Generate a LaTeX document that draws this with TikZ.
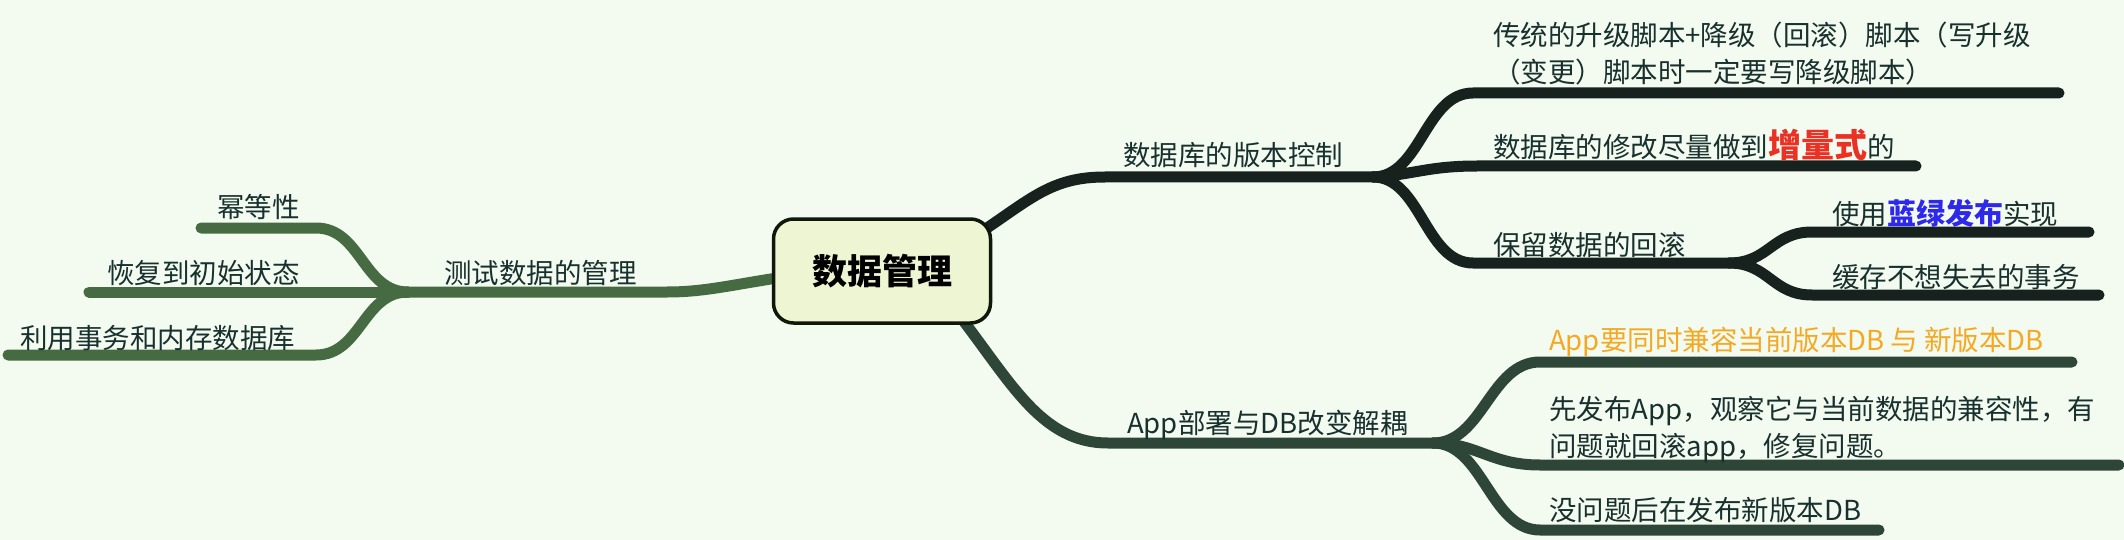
\documentclass[tikz,border=0pt]{standalone}
\usepackage{fontspec}
\setmainfont{Noto Sans CJK SC}
\definecolor{bgc}{RGB}{243,251,240}
\definecolor{rootfill}{RGB}{238,245,210}
\definecolor{rootline}{RGB}{16,24,12}
\definecolor{colL}{RGB}{70,107,66}
\definecolor{colT}{RGB}{23,33,30}
\definecolor{colB}{RGB}{45,70,55}
\definecolor{txtc}{RGB}{24,48,46}
\definecolor{redc}{RGB}{235,48,36}
\definecolor{bluec}{RGB}{45,40,235}
\definecolor{orangec}{RGB}{245,168,35}
\begin{document}
\begin{tikzpicture}[x=1pt,y=-1pt,
  txt/.style={anchor=west, inner sep=0pt, text=txtc, font=\fontsize{27.5}{37}\selectfont},
  br/.style={line width=11pt, line cap=round},
  rootbox/.style={draw=rootline, line width=3.5pt, fill=rootfill, rounded corners=20pt, minimum width=217pt, minimum height=104pt, inner sep=0pt, font=\fontsize{35}{40}\selectfont\bfseries}]
\fill[bgc] (0,0) rectangle (2124,540);
\useasboundingbox (0,0) rectangle (2124,540);

% ---------- coordinates ----------
% left branch
\coordinate (L0) at (790,276);
\coordinate (L1) at (667,292);
\coordinate (jL) at (408,292);
\coordinate (La) at (316,228); \coordinate (Lae) at (201,228);
\coordinate (Lbe) at (89,292);
\coordinate (Lc) at (316,355); \coordinate (Lce) at (8,355);
% right top branch
\coordinate (T0) at (975,236);
\coordinate (T1) at (1105,177);
\coordinate (jT) at (1373,177);
\coordinate (Ta) at (1473,93);  \coordinate (Tae) at (2059,93);
\coordinate (Tb) at (1477,166); \coordinate (Tbe) at (1916,166);
\coordinate (Tc) at (1473,263);
\coordinate (jT2) at (1729,263);
\coordinate (Tca) at (1812,232); \coordinate (Tcae) at (2089,232);
\coordinate (Tcb) at (1812,295); \coordinate (Tcbe) at (2099,295);
% right bottom branch
\coordinate (B0) at (955,310);
\coordinate (B1) at (1108,443);
\coordinate (jB) at (1433,443);
\coordinate (Ba) at (1540,362); \coordinate (Bae) at (2072,362);
\coordinate (Bb) at (1540,465); \coordinate (Bbe) at (2119,465);
\coordinate (Bc) at (1540,530); \coordinate (Bce) at (1879,530);

% ---------- connectors ----------
\draw[br, colL] (L0) .. controls (730,285) and (705,292) .. (L1) -- (jL);
\draw[br, colL] (jL) .. controls +(-45,0) and +(45,0) .. (La) -- (Lae);
\draw[br, colL] (jL) -- (Lbe);
\draw[br, colL] (jL) .. controls +(-45,0) and +(45,0) .. (Lc) -- (Lce);

\draw[br, colT] (T0) .. controls (1030,200) and (1050,177) .. (T1) -- (jT);
\draw[br, colT] (jT) .. controls +(48,0) and +(-48,0) .. (Ta) -- (Tae);
\draw[br, colT] (jT) .. controls +(40,-2) and +(-50,0) .. (Tb) -- (Tbe);
\draw[br, colT] (jT) .. controls +(48,0) and +(-48,0) .. (Tc) -- (jT2);
\draw[br, colT] (jT2) .. controls +(40,0) and +(-40,0) .. (Tca) -- (Tcae);
\draw[br, colT] (jT2) .. controls +(40,0) and +(-40,0) .. (Tcb) -- (Tcbe);

\draw[br, colB] (B0) .. controls (1010,380) and (1040,443) .. (B1) -- (jB);
\draw[br, colB] (jB) .. controls +(50,0) and +(-50,0) .. (Ba) -- (Bae);
\draw[br, colB] (jB) .. controls +(45,0) and +(-50,0) .. (Bb) -- (Bbe);
\draw[br, colB] (jB) .. controls +(50,0) and +(-50,0) .. (Bc) -- (Bce);

% ---------- root ----------
\node[rootbox] (root) at (882,271) {数据管理};

% ---------- texts ----------
\node[txt] (tL) at (444,273) {测试数据的管理};
\node[txt] (tLa) at (217,207) {幂等性};
\node[txt] (tLb) at (107,273) {恢复到初始状态};
\node[txt] (tLc) at (20,338) {利用事务和内存数据库};

\node[txt] (tT) at (1123,155) {数据库的版本控制};
\node[txt, align=left] (tTa) at (1493,54) {传统的升级脚本+降级（回滚）脚本（写升级\\（变更）脚本时一定要写降级脚本）};
\node[txt] (tTb) at (1493,145) {数据库的修改尽量做到{\color{redc}\fontsize{33}{37}\selectfont\bfseries 增量式}的};
\node[txt] (tTc) at (1493,245) {保留数据的回滚};
\node[txt] (tTca) at (1832,213) {使用{\color{bluec}\fontsize{29}{37}\selectfont\bfseries 蓝绿发布}实现};
\node[txt] (tTcb) at (1832,277) {缓存不想失去的事务};

\node[txt] (tB) at (1127,425) {App部署与DB改变解耦};
\node[txt, text=orangec] (tBa) at (1549,342) {App要同时兼容当前版本DB 与 新版本DB};
\node[txt, align=left] (tBb) at (1549,429) {先发布App，观察它与当前数据的兼容性，有\\问题就回滚app，修复问题。};
\node[txt] (tBc) at (1549,510) {没问题后在发布新版本DB};
\end{tikzpicture}
\end{document}
